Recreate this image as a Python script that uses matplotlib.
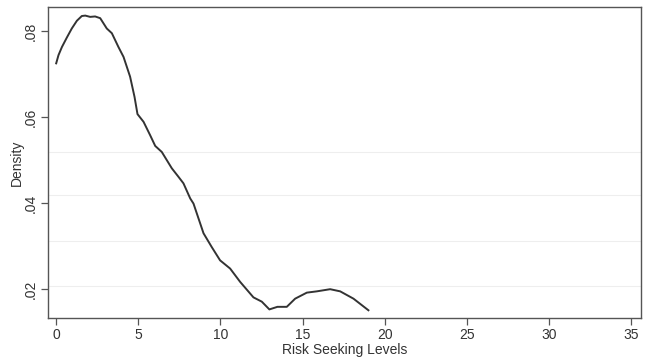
import matplotlib
matplotlib.use("Agg")
import matplotlib.pyplot as plt
from matplotlib.ticker import FuncFormatter

matplotlib.rcParams['font.family'] = 'sans-serif'
matplotlib.rcParams['font.sans-serif'] = ['Liberation Sans', 'DejaVu Sans']
matplotlib.rcParams['font.size'] = 10

# kernel density estimate of risk seeking levels
risk_level = [0.0, 0.14, 0.35, 0.65, 0.95, 1.26, 1.56, 1.77, 2.07, 2.37, 2.68,
              3.08, 3.39, 3.79, 4.10, 4.30, 4.50, 4.77, 4.95, 5.32, 5.72, 6.03,
              6.43, 7.04, 7.45, 7.75, 8.16, 8.36, 8.97, 9.47, 9.98, 10.59,
              11.20, 12.01, 12.52, 12.98, 13.47, 14.04, 14.55, 15.26, 15.87,
              16.68, 17.29, 18.10, 19.01]
density = [0.0725, 0.0744, 0.0763, 0.0785, 0.0806, 0.0824, 0.0835, 0.0836,
           0.0833, 0.0834, 0.0830, 0.0806, 0.0795, 0.0763, 0.0740, 0.0717,
           0.0694, 0.0647, 0.0607, 0.0589, 0.0558, 0.0533, 0.0519, 0.0481,
           0.0461, 0.0446, 0.0411, 0.0399, 0.0330, 0.0298, 0.0267, 0.0248,
           0.0217, 0.0181, 0.0171, 0.0153, 0.0159, 0.0159, 0.0178, 0.0192,
           0.0195, 0.0200, 0.0195, 0.0178, 0.0151]

x_ticks = [0, 5, 10, 15, 20, 25, 30, 35]
y_ticks = [0.02, 0.04, 0.06, 0.08]
faint_lines = [0.0207, 0.0313, 0.0418, 0.0518]


def stata_fmt(v, pos):
    s = "%.2f" % v
    return s[1:] if s.startswith("0") else s


fig = plt.figure(figsize=(6.5, 3.62), dpi=100)
ax = fig.add_axes([0.0738, 0.1215, 0.9122, 0.8592])

for yv in faint_lines:
    ax.axhline(yv, color='#eeeeee', lw=0.8, zorder=0)

ax.plot(risk_level, density, color='#333333', lw=1.4)

ax.set_xlim(-0.5, 35.6)
ax.set_ylim(0.0133, 0.0856)
ax.set_xticks(x_ticks)
ax.set_yticks(y_ticks)
ax.yaxis.set_major_formatter(FuncFormatter(stata_fmt))
for lbl in ax.get_yticklabels():
    lbl.set_rotation(90)
    lbl.set_va('center')

ax.tick_params(direction='out', length=5, width=0.9, color='#555555',
               labelcolor='#333333', labelsize=10, pad=2)
for sp in ax.spines.values():
    sp.set_color('#555555')
    sp.set_linewidth(1.0)

ax.set_xlabel("Risk Seeking Levels", color='#333333', labelpad=1)
ax.set_ylabel("Density", color='#333333', labelpad=0)

fig.savefig("out.png", dpi=100, facecolor='white')
